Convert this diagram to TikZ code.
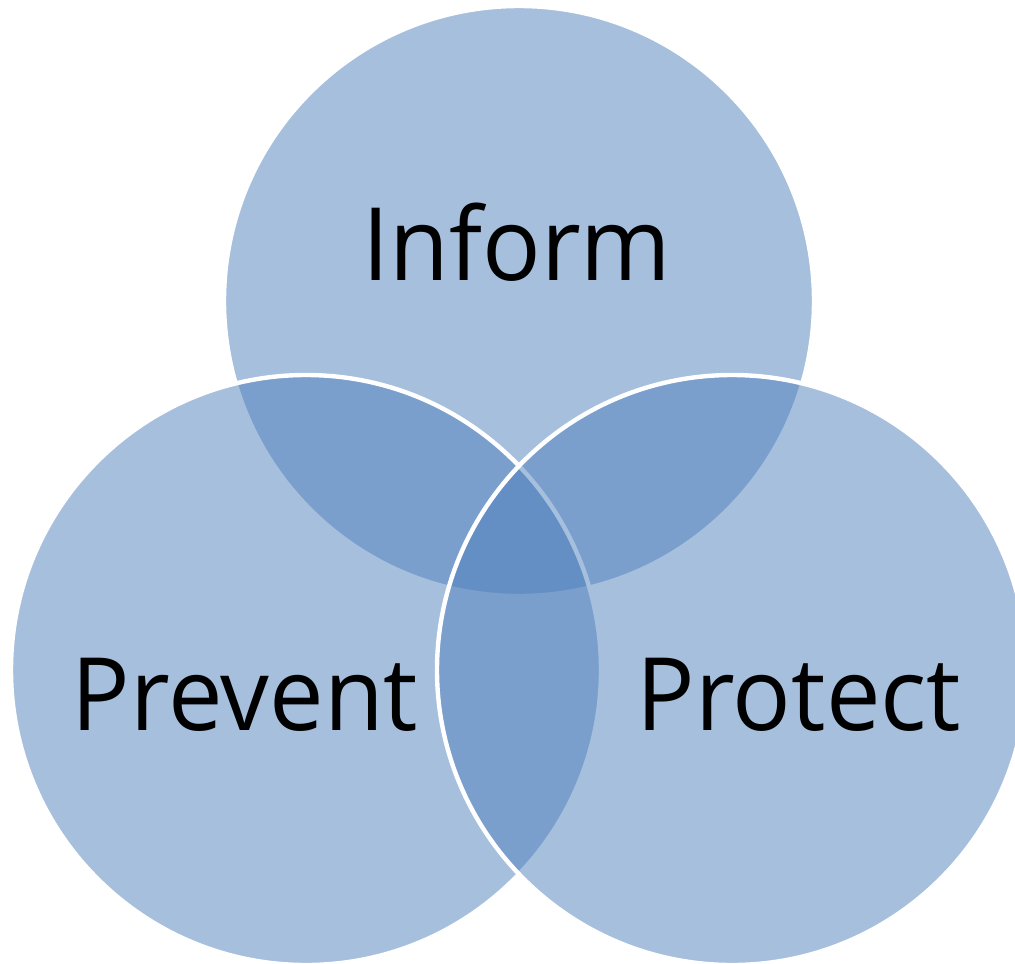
\documentclass[tikz,border=0pt]{standalone}
\usepackage{fontspec}
\setmainfont[FakeStretch=0.96]{Open Sans}
\definecolor{accentblue}{RGB}{79,129,189}
\begin{document}
\begin{tikzpicture}[x=0.75pt,y=-0.75pt,
  venn/.style={fill=accentblue,fill opacity=0.5,draw=white,draw opacity=1,line width=3.3pt},
  lbl/.style={anchor=base,font=\fontsize{76}{90}\selectfont,text=black,inner sep=0pt}]
\useasboundingbox (0,0) rectangle (1015,964);
\clip (0,0) rectangle (1015,964);
\fill[white] (0,0) rectangle (1015,964);
\draw[venn] (519,301) circle[radius=295];
\draw[venn] (306,670) circle[radius=295];
\draw[venn] (732,670) circle[radius=295];
\node[lbl] (inform) at (517,280) {Inform};
\node[lbl] (prevent) at (245,730) {Prevent};
\node[lbl] (protect) at (799,730) {Protect};
\end{tikzpicture}
\end{document}
